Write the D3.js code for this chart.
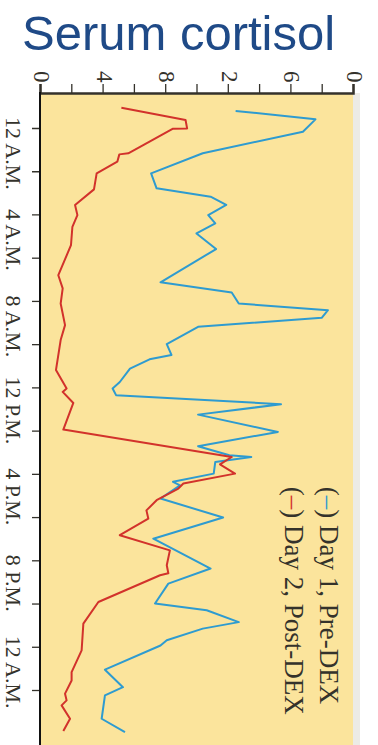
<!DOCTYPE html>
<html>
<head>
<meta charset="utf-8">
<script src="https://cdn.jsdelivr.net/npm/d3@7"></script>
<style>
  html, body { margin: 0; padding: 0; background: #fff; }
  svg { display: block; }
</style>
</head>
<body>
<div id="chart"></div>
<script>
// hours after 12 A.M. of day 1, cortisol in ug/dL
const day1Hours = [-0.79, -0.40, 0.17, 1.17, 2.10, 2.79, 3.18, 3.56, 4.03, 4.41, 4.88, 5.60, 7.14, 7.61, 8.12, 8.43, 8.78,
  9.20, 10.0, 10.5, 10.7, 11.13, 11.75, 12.05, 12.36, 12.78, 13.26, 14.06, 14.72, 15.14, 15.22, 15.45, 15.99, 16.37, 16.53,
  17.14, 18.02, 19.0, 20.38, 21.08, 22.0, 22.31, 22.86, 23.16, 23.7, 23.94, 25.06, 25.87, 26.25, 27.33, 27.95];
const day1Cortisol = [12.5, 17.6, 16.8, 10.4, 7.1, 7.45, 10.9, 11.9, 10.75, 11.2, 10.0, 11.25, 7.7, 12.25, 12.7, 18.4, 18.0,
  10.1, 8.1, 8.4, 7.0, 5.75, 5.1, 4.64, 4.86, 15.4, 10.1, 15.2, 10.1, 12.1, 13.5, 11.2, 11.1, 8.5, 8.95,
  7.7, 11.7, 7.24, 10.9, 8.2, 7.35, 10.65, 12.7, 10.4, 8.1, 7.7, 4.15, 5.3, 4.15, 3.94, 5.43];
const day2Hours = [-0.94, -0.37, 0.02, 0.03, 0.63, 1.17, 1.22, 1.56, 2.10, 2.84, 3.56, 4.03, 4.57, 5.42, 6.81, 7.42, 8.12, 9.12,
  9.81, 11.2, 12.05, 12.21, 12.72, 13.95, 15.22, 15.56, 15.99, 16.45, 16.68, 17.22, 17.69, 18.07, 18.84, 19.54, 20.23, 20.6,
  20.69, 21.93, 22.93, 24.17, 25.17, 25.56, 26.17, 26.48, 26.71, 27.33, 27.9];
const day2Cortisol = [5.2, 9.3, 9.4, 8.5, 7.0, 5.64, 5.07, 4.94, 3.62, 3.45, 2.24, 2.39, 2.07, 1.98, 1.17, 1.45, 1.32, 1.6,
  1.32, 1.02, 1.7, 1.45, 2.13, 1.49, 12.25, 11.5, 12.46, 9.16, 8.84, 7.45, 6.8, 6.92, 5.1, 8.3, 8.1, 8.2,
  7.67, 3.73, 2.77, 2.66, 2.02, 2.02, 1.6, 1.7, 1.38, 1.92, 1.49];

const cortisolTicks = [0, 4, 8, 12, 16, 20];
const cortisolMinorTicks = [0, 2, 4, 6, 8, 10, 12, 14, 16, 18, 20];
const hourTicks = [0, 4, 8, 12, 16, 20, 24];
const hourMinorTicks = [0, 2, 4, 6, 8, 10, 12, 14, 16, 18, 20, 22, 24, 26];
const hourLabels = ["12 A.M.", "4 A.M.", "8 A.M.", "12 P.M.", "4 P.M.", "8 P.M.", "12 A.M."];
const seriesNames = ["Day 1, Pre-DEX", "Day 2, Post-DEX"];
const seriesColors = ["#2e9bd0", "#d2322b"];
const chartTitle = "Serum cortisol";

const width = 378, height = 745;
const inkColor = "#34322b";

const svg = d3.select("#chart").append("svg")
  .attr("width", width)
  .attr("height", height);

// the chart is a photo turned 90deg: values run left->right, time runs down
const x = d3.scaleLinear().domain([0, 20]).range([40, 353]);
const y = d3.scaleLinear().domain([0, 26]).range([128, 690]);
const plotTop = 93, plotBottom = height;

// the top of the scanned figure is cut off under the title
svg.append("defs").append("clipPath").attr("id", "cut")
  .append("rect").attr("x", 0).attr("y", 70.5).attr("width", width).attr("height", height - 70.5);

const g = svg.append("g").attr("clip-path", "url(#cut)");

// faint edge of the scanned figure
g.append("rect")
  .attr("x", x(20)).attr("y", plotTop)
  .attr("width", 7).attr("height", plotBottom - plotTop)
  .attr("fill", "#ecebe6");

g.append("rect")
  .attr("x", x(0)).attr("y", plotTop)
  .attr("width", x(20) - x(0)).attr("height", plotBottom - plotTop)
  .attr("fill", "#fbe49c");

// lines
const lineGen = d3.line()
  .x(d => x(d[1]))
  .y(d => y(d[0]));

const series = [d3.zip(day1Hours, day1Cortisol), d3.zip(day2Hours, day2Cortisol)];

g.selectAll("path.series")
  .data(series)
  .enter()
  .append("path")
  .attr("class", "series")
  .attr("d", lineGen)
  .attr("fill", "none")
  .attr("stroke", (d, i) => seriesColors[i])
  .attr("stroke-width", 2)
  .attr("stroke-linejoin", "round");

// top (value) axis
const topAxis = g.append("g")
  .attr("transform", `translate(0,${plotTop})`)
  .call(d3.axisTop(x).tickValues(cortisolMinorTicks).tickSize(9).tickFormat(""));
topAxis.select(".domain").attr("stroke", inkColor).attr("stroke-width", 2.5);
topAxis.selectAll(".tick line").attr("stroke", inkColor).attr("stroke-width", 1.3);

g.selectAll("text.vlabel")
  .data(cortisolTicks)
  .enter()
  .append("text")
  .attr("class", "vlabel")
  .attr("transform", d => `translate(${x(d) + 2},${plotTop - 10.5}) rotate(90)`)
  .attr("text-anchor", "end")
  .attr("dy", "0.35em")
  .attr("font-family", "'Liberation Serif', 'DejaVu Serif', serif")
  .attr("font-size", 23)
  .attr("fill", inkColor)
  .text(d => d);

// left (time) axis
const leftAxis = g.append("g")
  .attr("transform", `translate(${x(0)},0)`)
  .call(d3.axisLeft(y).tickValues(hourMinorTicks).tickSize(8).tickFormat(""));
leftAxis.select(".domain").remove();
leftAxis.selectAll(".tick line").attr("stroke", inkColor).attr("stroke-width", 1.3);
g.append("line")
  .attr("x1", x(0)).attr("x2", x(0))
  .attr("y1", plotTop - 1).attr("y2", plotBottom)
  .attr("stroke", "#111").attr("stroke-width", 2);

const timeLabels = g.selectAll("text.tlabel")
  .data(hourTicks)
  .enter()
  .append("text")
  .attr("class", "tlabel")
  .attr("transform", d => `translate(6,${y(d)}) rotate(90)`)
  .attr("font-family", "'Liberation Serif', 'DejaVu Serif', serif")
  .attr("font-size", 22)
  .attr("fill", inkColor)
  .text((d, i) => hourLabels[i]);

// the hour number (not the whole label) sits on its tick
timeLabels.each(function (d, i) {
  const t = d3.select(this);
  const num = hourLabels[i].split(" ")[0];
  const probe = t.append("tspan").text(num);
  const w = probe.node().getComputedTextLength();
  probe.remove();
  t.text(hourLabels[i]).attr("x", -w / 2);
});

// legend, written along the time direction
const legend = g.append("g")
  .attr("transform", `translate(${x(17.9)},${y(16.6)}) rotate(90)`);

const legendRows = legend.selectAll("text")
  .data(seriesNames)
  .enter()
  .append("text")
  .attr("x", 0)
  .attr("y", (d, i) => i * 35)
  .attr("font-family", "'Liberation Serif', 'DejaVu Serif', serif")
  .attr("font-size", 27)
  .attr("fill", inkColor);
legendRows.append("tspan").text("(");
legendRows.append("tspan").attr("fill", (d, i) => seriesColors[i]).text("\u2013");
legendRows.append("tspan").text(") ");
legendRows.append("tspan").text(d => d);

// title
svg.append("text")
  .attr("x", 22)
  .attr("y", 50)
  .attr("font-family", "'Liberation Sans', Arial, sans-serif")
  .attr("font-size", 49)
  .attr("fill", "#1f4a87")
  .text(chartTitle);
</script>
</body>
</html>
